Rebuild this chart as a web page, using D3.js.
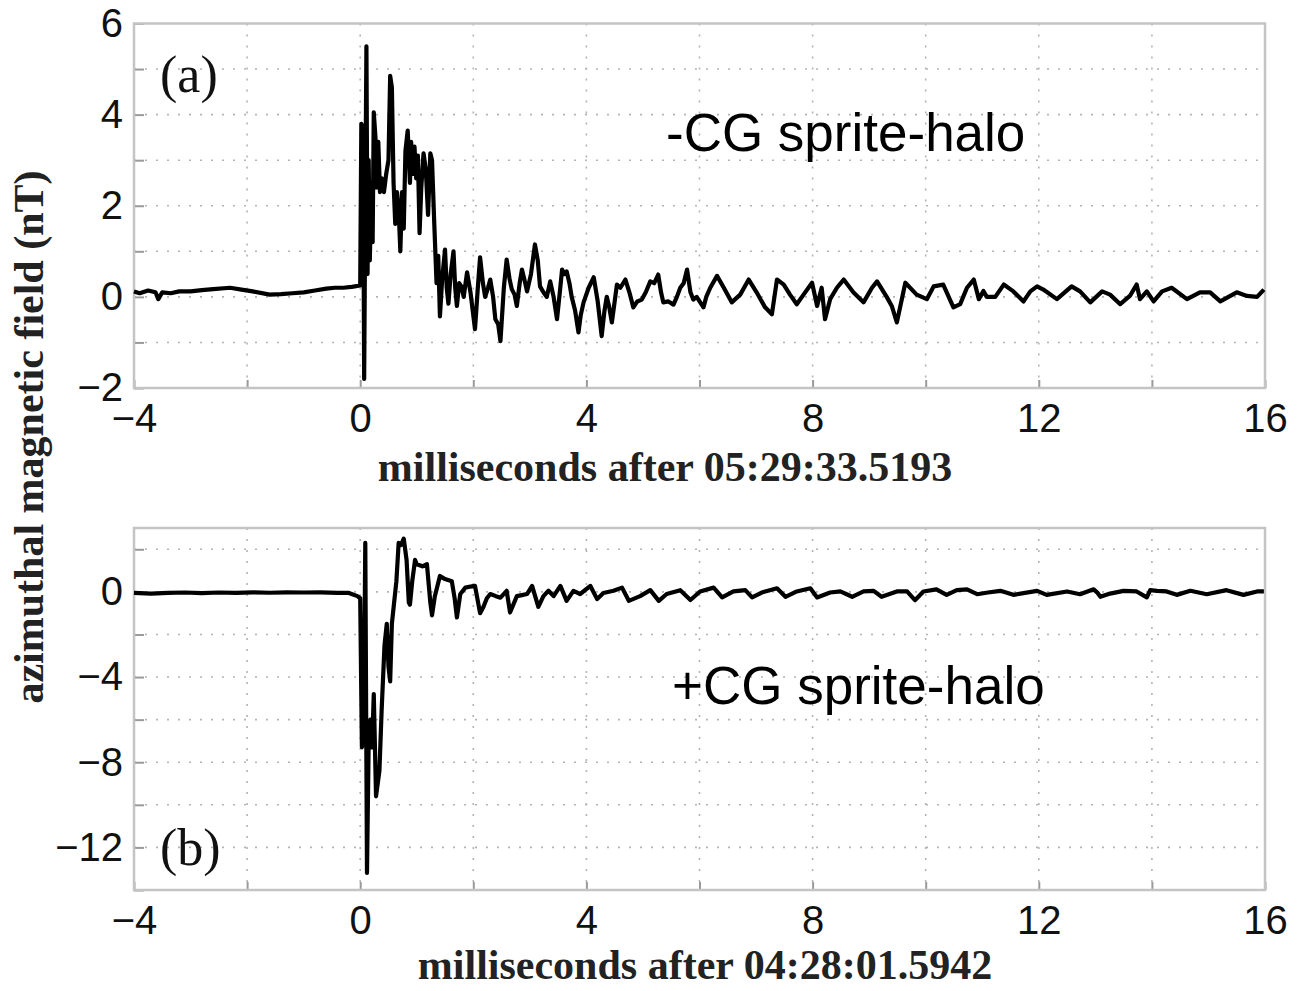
<!DOCTYPE html>
<html>
<head>
<meta charset="utf-8">
<script src="https://cdn.jsdelivr.net/npm/d3@7"></script>
<style>
  html, body { margin: 0; padding: 0; background: #ffffff; }
  svg { display: block; }
</style>
</head>
<body>
<svg id="chart" width="1298" height="991"></svg>
<script>
// Azimuthal magnetic field records (nT) versus time (ms) for two sprite-halo events.

// Panel (a): -CG sprite-halo, time in ms after 05:29:33.5193
const timeA = [
  -4.0, -3.9, -3.75, -3.62, -3.57, -3.5, -3.35, -3.2, -3.0, -2.8, -2.6, -2.3, -2.1, -1.9, -1.6, -1.4,
  -1.2, -1.0, -0.8, -0.6, -0.45, -0.3, -0.15, 0.0,
  0.02, 0.05, 0.06, 0.07, 0.09, 0.11, 0.13, 0.15, 0.17, 0.2, 0.22, 0.24, 0.27, 0.29, 0.32, 0.35,
  0.38, 0.42, 0.46, 0.5, 0.53, 0.56, 0.59, 0.62, 0.65, 0.68, 0.71, 0.74, 0.77, 0.8, 0.84, 0.88,
  0.9, 0.93, 0.96, 0.99, 1.02, 1.05, 1.08, 1.12, 1.16, 1.2, 1.24, 1.27, 1.31, 1.35, 1.38, 1.41,
  1.45, 1.5, 1.53, 1.56, 1.6, 1.65, 1.68, 1.71, 1.75, 1.79, 1.83, 1.89, 1.95, 2.03, 2.08, 2.12,
  2.17, 2.21, 2.26, 2.3, 2.35, 2.39, 2.44, 2.48, 2.54, 2.59, 2.64, 2.68, 2.73, 2.77, 2.82, 2.86,
  2.9, 2.95, 3.02, 3.09, 3.14, 3.18, 3.24, 3.3, 3.36, 3.42, 3.48, 3.53, 3.57, 3.61, 3.65, 3.7,
  3.74, 3.8, 3.86, 3.9, 3.95, 4.04, 4.13, 4.2, 4.27, 4.32, 4.36, 4.4, 4.45, 4.5, 4.54, 4.6,
  4.69, 4.76, 4.83, 4.9, 4.98, 5.05, 5.13, 5.2, 5.27, 5.32, 5.36, 5.45, 5.54, 5.6, 5.66, 5.72,
  5.78, 5.84, 5.89, 5.95, 6.07, 6.12, 6.19, 6.31, 6.43, 6.57, 6.72, 6.87, 7.01, 7.16, 7.28, 7.37,
  7.49, 7.6, 7.72, 7.84, 7.99, 8.08, 8.16, 8.22, 8.31, 8.43, 8.55, 8.72, 8.9, 9.05, 9.14, 9.31,
  9.4, 9.49, 9.64, 9.84, 10.02, 10.14, 10.31, 10.49, 10.61, 10.73, 10.85, 10.94, 11.02, 11.08, 11.23, 11.38,
  11.55, 11.73, 11.85, 11.97, 12.08, 12.32, 12.58, 12.73, 12.91, 13.12, 13.26, 13.44, 13.61, 13.73, 13.79, 13.91,
  14.03, 14.18, 14.35, 14.62, 14.85, 15.03, 15.21, 15.5, 15.68, 15.86, 15.98
];
const fieldA = [
  0.12, 0.08, 0.14, 0.1, -0.05, 0.1, 0.08, 0.12, 0.12, 0.15, 0.17, 0.2, 0.16, 0.12, 0.05, 0.06,
  0.08, 0.1, 0.14, 0.18, 0.2, 0.2, 0.22, 0.25,
  3.8, 3.7, 1.0, -1.8, 2.0, 5.5, 0.5, 3.0, 0.8, 2.5, 1.2, 4.05, 3.5, 2.4, 3.4, 2.3,
  2.6, 2.3, 2.7, 3.0, 4.85, 4.6, 2.5, 1.6, 2.3, 1.9, 1.0, 2.3, 1.5, 3.2, 3.65, 2.5,
  3.4, 2.7, 3.3, 2.6, 3.1, 1.4, 2.4, 3.15, 2.8, 1.8, 3.15, 3.0, 1.6, 0.3, 0.9, -0.43,
  0.4, 1.04, 0.2, -0.15, 0.5, 1.0, 0.2, -0.2, 0.3, 0.23, 0.0, 0.54, 0.1, -0.71, 0.2, 0.87,
  0.3, 0.0, 0.2, 0.38, 0.0, -0.49, -0.6, -0.97, 0.2, 0.82, 0.4, 0.17, 0.05, -0.2, 0.3, 0.6,
  0.4, 0.12, 0.5, 1.15, 0.8, 0.23, 0.1, 0.0, 0.34, 0.0, -0.49, 0.1, 0.6, 0.5, 0.56, 0.3,
  0.0, -0.3, -0.78, -0.4, -0.12, 0.2, 0.43, -0.1, -0.86, -0.3, 0.0, -0.2, -0.56, -0.1, 0.27, 0.2,
  0.38, 0.1, -0.23, -0.1, -0.06, 0.1, 0.34, 0.3, 0.49, 0.1, -0.12, -0.1, -0.17, 0.0, 0.2, 0.3,
  0.6, 0.1, -0.06, 0.0, -0.23, 0.0, 0.2, 0.46, 0.2, -0.12, 0.05, 0.38, 0.1, -0.23, -0.38, 0.38,
  0.27, 0.05, -0.16, 0.05, 0.31, -0.2, 0.2, -0.49, -0.05, 0.2, 0.38, 0.1, -0.12, 0.2, 0.34, 0.0,
  -0.2, -0.56, 0.31, 0.05, -0.05, 0.23, 0.27, -0.23, -0.16, 0.2, 0.38, -0.05, 0.13, 0.0, 0.0, 0.27,
  0.12, -0.1, 0.12, 0.23, 0.16, -0.05, 0.23, 0.12, -0.12, 0.12, 0.05, -0.16, 0.02, 0.27, -0.05, 0.12,
  -0.1, 0.12, 0.2, -0.05, 0.1, 0.1, -0.1, 0.1, 0.02, 0.0, 0.16
];

// Panel (b): +CG sprite-halo, time in ms after 04:28:01.5942
const timeB = [
  -4.0, -3.7, -3.4, -3.1, -2.8, -2.5, -2.2, -1.9, -1.6, -1.3, -1.0, -0.7, -0.4, -0.2, -0.05, 0.0,
  0.03, 0.06, 0.09, 0.12, 0.15, 0.18, 0.21, 0.24, 0.28, 0.31, 0.34, 0.38, 0.43, 0.47, 0.5, 0.53,
  0.56, 0.6, 0.64, 0.68, 0.72, 0.77, 0.82, 0.86, 0.88, 0.92, 0.97, 1.0, 1.1, 1.18, 1.24, 1.27,
  1.32, 1.41, 1.5, 1.62, 1.67, 1.71, 1.77, 1.86, 1.95, 2.03, 2.12, 2.18, 2.24, 2.3, 2.4, 2.48,
  2.59, 2.65, 2.77, 2.86, 2.95, 3.04, 3.15, 3.24, 3.33, 3.42, 3.54, 3.65, 3.77, 3.89, 4.07, 4.19,
  4.3, 4.48, 4.63, 4.75, 4.95, 5.13, 5.28, 5.42, 5.66, 5.84, 6.01, 6.25, 6.4, 6.6, 6.81, 6.93,
  7.1, 7.37, 7.52, 7.72, 7.96, 8.08, 8.31, 8.49, 8.7, 8.9, 9.08, 9.22, 9.49, 9.67, 9.81, 9.96,
  10.19, 10.37, 10.55, 10.73, 10.91, 11.1, 11.32, 11.55, 11.97, 12.14, 12.5, 12.73, 12.97, 13.03, 13.09, 13.26,
  13.5, 13.73, 13.91, 13.97, 14.09, 14.26, 14.44, 14.68, 14.97, 15.32, 15.62, 15.86, 15.98
];
const fieldB = [
  -0.05, -0.08, -0.05, -0.03, -0.06, -0.03, -0.05, -0.02, -0.04, -0.02, -0.03, -0.02, -0.05, -0.05, -0.2, -0.3,
  -7.3, -7.0, 2.3, -13.2, -7.0, -6.0, -7.3, -4.8, -9.6, -9.0, -8.4, -5.5, -2.5, -1.5, -3.5, -4.2,
  -1.5, -0.5, 0.5, 2.3, 2.2, 2.5, 1.5, -0.5, -0.6, 0.5, 1.5, 1.3, 1.2, 1.3, -0.5, -1.1,
  -0.2, 0.75, 0.6, 0.5, -0.3, -1.2, -0.1, 0.2, 0.25, 0.28, -1.0, -0.7, -0.3, -0.1, -0.2, -0.27,
  0.05, -0.97, -0.2, -0.15, -0.1, 0.28, -0.7, -0.2, 0.05, -0.2, 0.28, -0.42, 0.05, -0.1, 0.28, -0.34,
  -0.05, 0.05, 0.2, -0.42, -0.2, 0.08, -0.42, -0.1, 0.08, -0.38, 0.02, 0.2, -0.26, 0.02, 0.08, -0.26,
  -0.03, 0.17, -0.23, 0.02, 0.17, -0.26, -0.03, 0.02, -0.23, 0.02, 0.05, -0.23, 0.02, 0.02, -0.39, 0.02,
  0.12, -0.14, 0.08, 0.12, -0.11, -0.03, 0.05, -0.14, 0.05, -0.14, 0.02, -0.11, 0.12, -0.02, -0.23, -0.08,
  0.05, 0.02, -0.26, 0.08, 0.05, 0.02, -0.14, 0.05, -0.11, 0.08, -0.14, 0.02, 0.02
];

// Axis ticks and labels
const xDomain = [-4, 16];
const xGridTicks = [-4, -2, 0, 2, 4, 6, 8, 10, 12, 14, 16];
const xLabelTicks = [-4, 0, 4, 8, 12, 16];

const yDomainA = [-2, 6];
const yGridTicksA = [-2, -1, 0, 1, 2, 3, 4, 5, 6];
const yLabelTicksA = [-2, 0, 2, 4, 6];

const yDomainB = [-14, 3];
const yGridTicksB = [-14, -12, -10, -8, -6, -4, -2, 0, 2];
const yLabelTicksB = [-12, -8, -4, 0];

const xTitleA = "milliseconds after 05:29:33.5193";
const xTitleB = "milliseconds after 04:28:01.5942";
const yTitle = "azimuthal magnetic field (nT)";
const panelTagA = "(a)";
const panelTagB = "(b)";
const eventA = "-CG sprite-halo";
const eventB = "+CG sprite-halo";

const svg = d3.select("#chart");
const plotLeft = 134, plotRight = 1265;

function drawPanel(cfg) {
  const x = d3.scaleLinear().domain(xDomain).range([plotLeft, plotRight]);
  const y = d3.scaleLinear().domain(cfg.yDomain).range([cfg.bottom, cfg.top]);
  const g = svg.append("g");

  // dotted grid
  g.append("g").selectAll("line")
    .data(xGridTicks.filter(d => d > xDomain[0] && d < xDomain[1]))
    .join("line")
    .attr("x1", d => x(d)).attr("x2", d => x(d))
    .attr("y1", cfg.top).attr("y2", cfg.bottom)
    .attr("stroke", "#b4b4b4").attr("stroke-width", 1.6)
    .attr("stroke-dasharray", "2 9");
  g.append("g").selectAll("line")
    .data(cfg.yGrid.filter(d => d > cfg.yDomain[0] && d < cfg.yDomain[1]))
    .join("line")
    .attr("x1", plotLeft).attr("x2", plotRight)
    .attr("y1", d => y(d)).attr("y2", d => y(d))
    .attr("stroke", "#b4b4b4").attr("stroke-width", 1.6)
    .attr("stroke-dasharray", "2 9");

  // axes with inward ticks
  const yAxis = d3.axisLeft(y)
    .tickValues(cfg.yGrid)
    .tickSizeInner(-10).tickSizeOuter(0)
    .tickPadding(11)
    .tickFormat(d => cfg.yLabels.includes(d) ? d3.format("")(d) : "");
  const xAxis = d3.axisBottom(x)
    .tickValues(xGridTicks)
    .tickSizeInner(-8).tickSizeOuter(0)
    .tickPadding(16)
    .tickFormat(d => xLabelTicks.includes(d) ? d3.format("")(d) : "");

  const ya = g.append("g").attr("transform", `translate(${plotLeft},0)`).call(yAxis);
  const xa = g.append("g").attr("transform", `translate(0,${cfg.bottom})`).call(xAxis);
  [ya, xa].forEach(a => {
    a.select(".domain").remove();
    a.selectAll(".tick line").attr("stroke", "#9a9a9a").attr("stroke-width", 2);
    a.selectAll(".tick text")
      .attr("fill", "#111")
      .style("font-family", "'Liberation Sans', Arial, Helvetica, sans-serif")
      .style("font-size", "40px");
  });

  // frame
  g.append("rect")
    .attr("x", plotLeft).attr("y", cfg.top)
    .attr("width", plotRight - plotLeft).attr("height", cfg.bottom - cfg.top)
    .attr("fill", "none").attr("stroke", "#c4c4c4").attr("stroke-width", 2.5);

  // signal trace
  const pts = cfg.time.map((t, i) => [t, cfg.field[i]]);
  g.append("path")
    .datum(pts)
    .attr("fill", "none")
    .attr("stroke", "#000")
    .attr("stroke-width", 4.2)
    .attr("stroke-linejoin", "round")
    .attr("d", d3.line().x(d => x(d[0])).y(d => y(d[1])));

  // x title
  g.append("text")
    .attr("x", cfg.titleX).attr("y", cfg.titleY)
    .attr("text-anchor", "middle")
    .style("font-family", "'Liberation Serif', 'Times New Roman', serif")
    .style("font-weight", "bold")
    .style("font-size", "42px")
    .attr("fill", "#222")
    .text(cfg.xTitle);

  // panel tag
  g.append("text")
    .attr("x", 160).attr("y", cfg.tagY)
    .style("font-family", "'Liberation Serif', 'Times New Roman', serif")
    .style("font-size", "52px")
    .attr("fill", "#111")
    .text(cfg.tag);

  // event annotation
  g.append("text")
    .attr("x", cfg.eventX).attr("y", cfg.eventY)
    .style("font-family", "'Liberation Sans', Arial, Helvetica, sans-serif")
    .style("font-size", "53px")
    .attr("fill", "#000")
    .text(cfg.event);
}

drawPanel({
  time: timeA, field: fieldA, yDomain: yDomainA, yGrid: yGridTicksA, yLabels: yLabelTicksA,
  top: 23.5, bottom: 388, xTitle: xTitleA, titleX: 665, titleY: 481,
  tag: panelTagA, tagY: 92, event: eventA, eventX: 666, eventY: 151
});
drawPanel({
  time: timeB, field: fieldB, yDomain: yDomainB, yGrid: yGridTicksB, yLabels: yLabelTicksB,
  top: 528, bottom: 890, xTitle: xTitleB, titleX: 705, titleY: 979,
  tag: panelTagB, tagY: 865, event: eventB, eventX: 672, eventY: 704
});

// shared y title
svg.append("text")
  .attr("transform", "translate(43,437) rotate(-90)")
  .attr("text-anchor", "middle")
  .style("font-family", "'Liberation Serif', 'Times New Roman', serif")
  .style("font-weight", "bold")
  .style("font-size", "42px")
  .attr("fill", "#222")
  .text(yTitle);
</script>
</body>
</html>
